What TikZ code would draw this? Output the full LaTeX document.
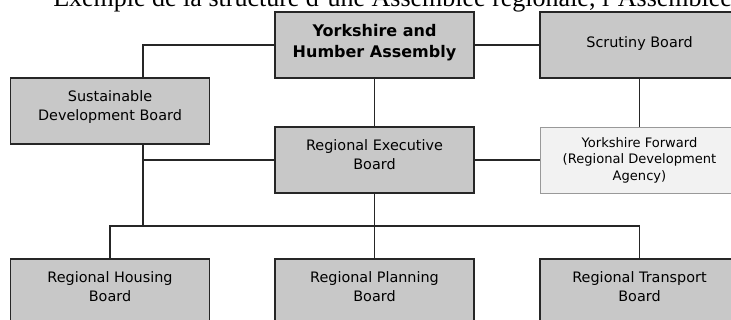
\documentclass[tikz,border=0pt]{standalone}
\usepackage{fontspec}
\setmainfont{DejaVu Sans}
\newfontfamily\titlefont{Liberation Serif}
\usepackage{tikz}
\definecolor{boardgray}{RGB}{200,200,200}
\definecolor{agencygray}{RGB}{242,242,242}
\tikzset{
  board/.style={draw=black!85, line width=1.1pt, fill=boardgray,
    minimum width=149.25pt, minimum height=49.5pt, inner sep=0pt,
    align=center, font=\fontsize{10.8}{14.25}\selectfont, text depth=7.5pt},
  agency/.style={board, draw=black!40, line width=0.7pt, fill=agencygray,
    font=\fontsize{9.8}{12.5}\selectfont, text depth=1.5pt},
  link/.style={draw=black!85, line width=0.9pt}
}

\begin{document}
\begin{tikzpicture}[x=0.75pt,y=-0.75pt]
\useasboundingbox (0,0) rectangle (731,320);
\clip (0,0) rectangle (731,320);
\node[board, font=\bfseries\fontsize{12}{15.75}\selectfont, text depth=5.7pt] (assembly) at (374.5,45) {Yorkshire and\\Humber Assembly};
\node[board, text depth=4.2pt] (scrutiny) at (639.5,45) {Scrutiny Board};
\node[board] (sustain) at (110,111) {Sustainable\\Development Board};
\node[board] (exec) at (374.5,160) {Regional Executive\\Board};
\node[agency] (forward) at (639.5,160) {Yorkshire Forward\\(Regional Development\\Agency)};
\node[board] (housing) at (110,292) {Regional Housing\\Board};
\node[board] (planning) at (374.5,292) {Regional Planning\\Board};
\node[board] (transport) at (639.5,292) {Regional Transport\\Board};
\node[anchor=base west, inner sep=0pt, font=\titlefont\fontsize{19.5}{23}\selectfont] (caption) at (53,7) {Exemple de la structure d’une Assemblée régionale, l’Assemblée du Yorkshire et de Humber};
\coordinate (trunk) at (143,226);
\draw[link] (assembly.west) -| (sustain.north -| trunk);
\draw[link] (assembly.east) -- (scrutiny.west);
\draw[link] (assembly.south) -- (exec.north);
\draw[link] (scrutiny.south) -- (forward.north);
\draw[link] (exec.west) -- (exec.west -| trunk);
\draw[link] (exec.east) -- (forward.west);
\draw[link] (sustain.south -| trunk) -- (trunk);
\draw[link] (housing.north) |- (trunk) -| (transport.north);
\draw[link] (exec.south) -- (planning.north);
\end{tikzpicture}
\end{document}
